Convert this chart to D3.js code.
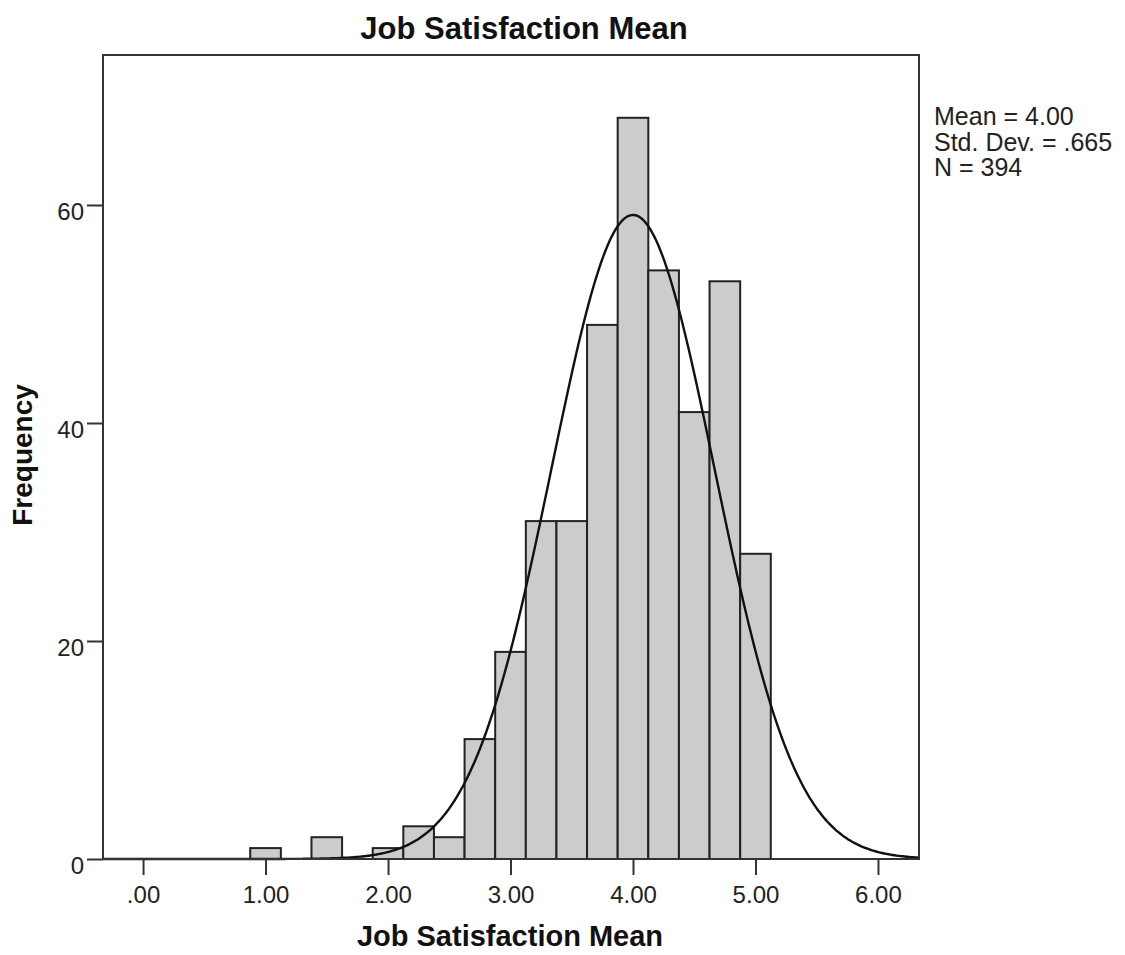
<!DOCTYPE html>
<html>
<head>
<meta charset="utf-8">
<script src="https://cdn.jsdelivr.net/npm/d3@7"></script>
<style>
  html, body { margin: 0; padding: 0; background: #fff; }
  svg { display: block; font-family: "Liberation Sans", Arial, sans-serif; }
</style>
</head>
<body>
<svg id="chart" width="1125" height="955"></svg>
<script>
// ---- Data ----
const binCenters = [1.00, 1.25, 1.50, 1.75, 2.00, 2.25, 2.50, 2.75, 3.00, 3.25, 3.50, 3.75, 4.00, 4.25, 4.50, 4.75, 5.00];
const binCounts  = [1,    0,    2,    0,    1,    3,    2,    11,   19,   31,   31,   49,   68,   54,   41,   53,   28];
const binWidth = 0.25;
const xTickValues = [0, 1, 2, 3, 4, 5, 6];
const xTickLabels = [".00", "1.00", "2.00", "3.00", "4.00", "5.00", "6.00"];
const yTickValues = [0, 20, 40, 60];
const statLines = ["Mean = 4.00", "Std. Dev. = .665", "N = 394"];
const statMean = 4.00;
const statSD = 0.665;
const statN = 394;
const titleText = "Job Satisfaction Mean";
const xTitle = "Job Satisfaction Mean";
const yTitle = "Frequency";

// ---- Layout ----
const svg = d3.select("#chart");
const plot = { left: 103, right: 919, top: 55, bottom: 859 };

const x = d3.scaleLinear().domain([-0.327, 6.335]).range([plot.left, plot.right]);
const y = d3.scaleLinear().domain([0, 73.76]).range([plot.bottom, plot.top]);

const dark = "#222";

// Bars
svg.append("g").selectAll("rect")
  .data(binCenters.map((c, i) => ({ c, n: binCounts[i] })).filter(d => d.n > 0))
  .join("rect")
  .attr("x", d => x(d.c - binWidth / 2))
  .attr("width", d => x(d.c + binWidth / 2) - x(d.c - binWidth / 2))
  .attr("y", d => y(d.n))
  .attr("height", d => y(0) - y(d.n))
  .attr("fill", "#cccccc")
  .attr("stroke", dark)
  .attr("stroke-width", 2);

// Fitted normal curve (from stated mean / sd / N, scaled to bin width)
const curveXs = d3.range(0, 401).map(i => x.domain()[0] + (x.domain()[1] - x.domain()[0]) * i / 400);
const normal = v => statN * binWidth / (statSD * Math.sqrt(2 * Math.PI)) * Math.exp(-0.5 * Math.pow((v - statMean) / statSD, 2));
svg.append("path")
  .datum(curveXs)
  .attr("fill", "none")
  .attr("stroke", "#111")
  .attr("stroke-width", 2.4)
  .attr("d", d3.line().x(d => x(d)).y(d => y(normal(d))).curve(d3.curveBasis));

// Frame
svg.append("rect")
  .attr("x", plot.left).attr("y", plot.top)
  .attr("width", plot.right - plot.left).attr("height", plot.bottom - plot.top)
  .attr("fill", "none").attr("stroke", "#333").attr("stroke-width", 2);

// Y axis
const yAxis = d3.axisLeft(y).tickValues(yTickValues).tickSize(16).tickPadding(3).tickFormat(d3.format("d"));
const yg = svg.append("g").attr("transform", `translate(${plot.left},0)`).call(yAxis);
yg.select(".domain").remove();
yg.selectAll(".tick line").attr("stroke", "#333").attr("stroke-width", 2);
yg.selectAll(".tick text")
  .attr("font-size", 24).attr("fill", "#222")
  .attr("font-family", "'Liberation Sans', Arial, sans-serif")
  .attr("dy", "0.62em").attr("y", 0);

// X axis
const xAxis = d3.axisBottom(x).tickValues(xTickValues).tickSize(16).tickPadding(11)
  .tickFormat((d, i) => xTickLabels[i]);
const xg = svg.append("g").attr("transform", `translate(0,${plot.bottom})`).call(xAxis);
xg.select(".domain").remove();
xg.selectAll(".tick line").attr("stroke", "#333").attr("stroke-width", 2);
xg.selectAll(".tick text")
  .attr("font-size", 24).attr("fill", "#222")
  .attr("font-family", "'Liberation Sans', Arial, sans-serif");

// Title
svg.append("text")
  .attr("x", 524).attr("y", 39)
  .attr("text-anchor", "middle")
  .attr("font-size", 31).attr("font-weight", "bold").attr("fill", "#111")
  .text(titleText);

// X title
svg.append("text")
  .attr("x", 510).attr("y", 946)
  .attr("text-anchor", "middle")
  .attr("font-size", 29).attr("font-weight", "bold").attr("fill", "#111")
  .text(xTitle);

// Y title
svg.append("text")
  .attr("transform", "translate(32,455) rotate(-90)")
  .attr("text-anchor", "middle")
  .attr("font-size", 28).attr("font-weight", "bold").attr("fill", "#111")
  .text(yTitle);

// Stats box text
svg.append("g").selectAll("text")
  .data(statLines)
  .join("text")
  .attr("x", 934)
  .attr("y", (d, i) => 125 + i * 25.5)
  .attr("font-size", 25).attr("fill", "#222")
  .text(d => d);
</script>
</body>
</html>
